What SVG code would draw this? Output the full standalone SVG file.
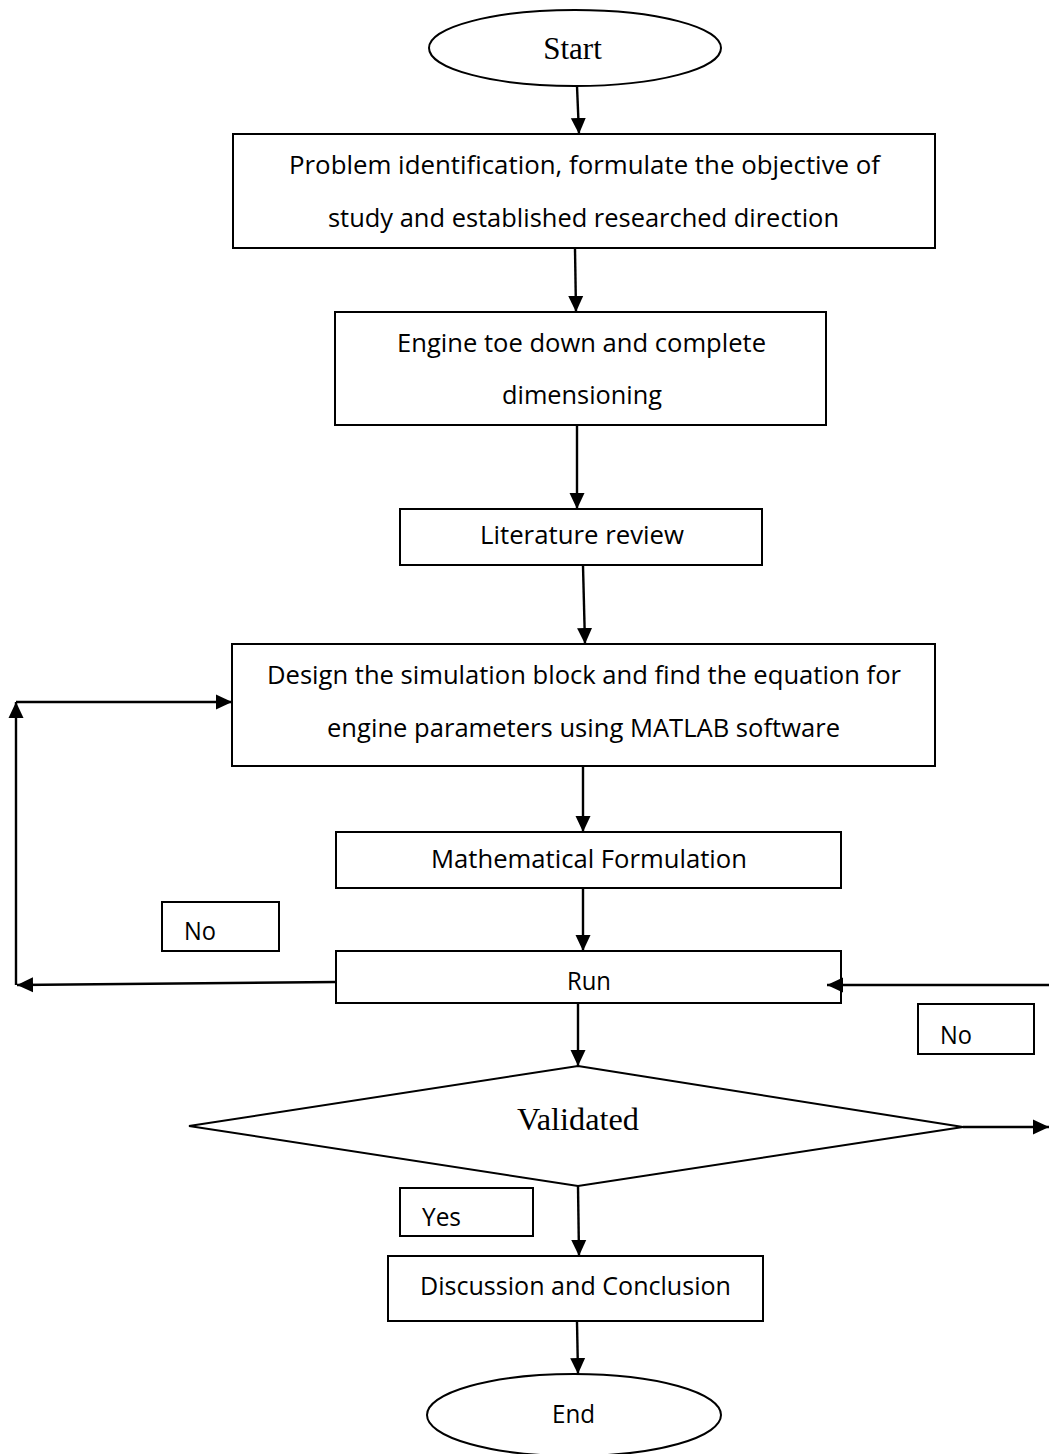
<svg xmlns="http://www.w3.org/2000/svg" width="1049" height="1454" viewBox="0 0 1049 1454">
<defs>
<marker id="ah" markerUnits="userSpaceOnUse" markerWidth="17" markerHeight="16" refX="16" refY="8" orient="auto">
<path d="M0,0.5 L16,8 L0,15.5 z" fill="#000"/>
</marker>
<style>
.shape{fill:#fff;stroke:#000;stroke-width:2}
.conn{fill:none;stroke:#000;stroke-width:2.4;marker-end:url(#ah)}
.t{font-family:"Open Sans","Liberation Sans",sans-serif;font-size:25px;fill:#000}
.s{font-family:"Liberation Serif","Times New Roman",serif;font-size:31px;fill:#000}
</style>
</defs>
<rect width="1049" height="1454" fill="#fff"/>
<g id="start">
<ellipse class="shape" cx="575" cy="48" rx="146" ry="38"/>
<text class="s" x="572.5" y="59" text-anchor="middle">Start</text>
</g>
<g id="problem">
<rect class="shape" x="233" y="134" width="702" height="114"/>
<text class="t" x="584.5" y="174" text-anchor="middle" textLength="591" lengthAdjust="spacingAndGlyphs">Problem identification, formulate the objective of</text>
<text class="t" x="583.5" y="227" text-anchor="middle" textLength="511" lengthAdjust="spacingAndGlyphs">study and established researched direction</text>
</g>
<g id="engine">
<rect class="shape" x="335" y="312" width="491" height="113"/>
<text class="t" x="581.5" y="352" text-anchor="middle" textLength="369" lengthAdjust="spacingAndGlyphs">Engine toe down and complete</text>
<text class="t" x="582" y="404" text-anchor="middle" textLength="160" lengthAdjust="spacingAndGlyphs">dimensioning</text>
</g>
<g id="literature">
<rect class="shape" x="400" y="509" width="362" height="56"/>
<text class="t" x="582" y="544" text-anchor="middle" textLength="204" lengthAdjust="spacingAndGlyphs">Literature review</text>
</g>
<g id="design">
<rect class="shape" x="232" y="644" width="703" height="122"/>
<text class="t" x="584" y="684" text-anchor="middle" textLength="634" lengthAdjust="spacingAndGlyphs">Design the simulation block and find the equation for</text>
<text class="t" x="583.5" y="737" text-anchor="middle" textLength="513" lengthAdjust="spacingAndGlyphs">engine parameters using MATLAB software</text>
</g>
<g id="math">
<rect class="shape" x="336" y="832" width="505" height="56"/>
<text class="t" x="589" y="868" text-anchor="middle" textLength="316" lengthAdjust="spacingAndGlyphs">Mathematical Formulation</text>
</g>
<g id="no-left">
<rect class="shape" x="162" y="902" width="117" height="49"/>
<text class="t" x="184" y="940" textLength="32" lengthAdjust="spacingAndGlyphs">No</text>
</g>
<g id="run">
<rect class="shape" x="336" y="951" width="505" height="52"/>
<text class="t" x="589" y="990" text-anchor="middle" textLength="44" lengthAdjust="spacingAndGlyphs">Run</text>
</g>
<g id="no-right">
<rect class="shape" x="918" y="1004" width="116" height="50"/>
<text class="t" x="940" y="1044" textLength="32" lengthAdjust="spacingAndGlyphs">No</text>
</g>
<g id="validated">
<polygon class="shape" points="578,1066 963,1127 578,1186 189,1126"/>
<text class="s" x="578" y="1130" text-anchor="middle" textLength="122" lengthAdjust="spacingAndGlyphs">Validated</text>
</g>
<g id="yes">
<rect class="shape" x="400" y="1188" width="133" height="48"/>
<text class="t" x="422" y="1226" textLength="39" lengthAdjust="spacingAndGlyphs">Yes</text>
</g>
<g id="discussion">
<rect class="shape" x="388" y="1256" width="375" height="65"/>
<text class="t" x="575.5" y="1295" text-anchor="middle" textLength="311" lengthAdjust="spacingAndGlyphs">Discussion and Conclusion</text>
</g>
<g id="end">
<ellipse class="shape" cx="574" cy="1415" rx="147" ry="41"/>
<text class="t" x="573.5" y="1423" text-anchor="middle" textLength="43" lengthAdjust="spacingAndGlyphs">End</text>
</g>
<g id="connectors">
<path class="conn" d="M577,86 L579,134"/>
<path class="conn" d="M575,249 L576,312"/>
<path class="conn" d="M577,426 L577,509"/>
<path class="conn" d="M583,566 L585,644"/>
<path class="conn" d="M583,767 L583,832"/>
<path class="conn" d="M583,889 L583,951"/>
<path class="conn" d="M336,982 L17,985"/>
<path class="conn" d="M16,985 L16,702"/>
<path class="conn" d="M16,702 L232,702"/>
<path class="conn" d="M1049,985 L827,985"/>
<path class="conn" d="M578,1004 L578,1066"/>
<path class="conn" d="M963,1127 L1049,1127"/>
<path class="conn" d="M578,1186 L579,1256"/>
<path class="conn" d="M577,1322 L578,1374"/>
</g>
</svg>
